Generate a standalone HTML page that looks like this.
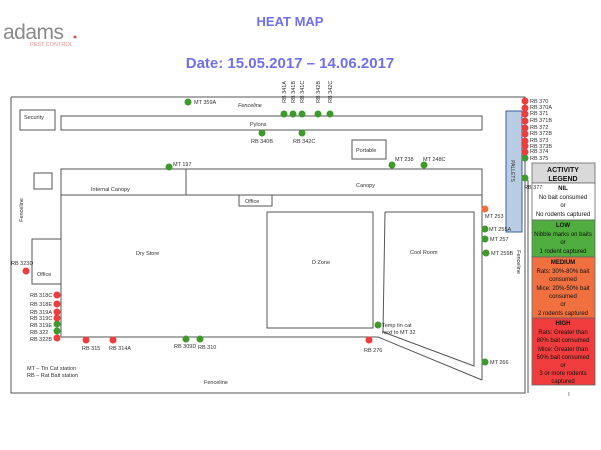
<!DOCTYPE html>
<html><head><meta charset="utf-8"><style>
body{margin:0;background:#fff}
svg{display:block}
text{font-family:"Liberation Sans",sans-serif}
</style></head><body>
<svg width="601" height="450" viewBox="0 0 601 450" xmlns="http://www.w3.org/2000/svg">
<text x="3" y="39" font-size="21" fill="#8a8a8a" letter-spacing="-0.5">adams</text>
<circle cx="75" cy="37" r="1.5" fill="#e05050"/>
<text x="30" y="46" font-size="5.5" fill="#e89090">PEST CONTROL</text>
<text x="290" y="26" font-size="13" font-weight="bold" fill="#7070f0" text-anchor="middle">HEAT MAP</text>
<text x="290" y="68" font-size="15" font-weight="bold" fill="#7070f0" text-anchor="middle">Date: 15.05.2017 – 14.06.2017</text>

<g fill="none" stroke="#555" stroke-width="1">
<polyline points="11,97 525,97 525,393 11,393 11,97"/>
<line x1="528" y1="180" x2="528" y2="393"/>
<rect x="20" y="110" width="35" height="20"/>
<rect x="61" y="116" width="421" height="14"/>
<rect x="34" y="173" width="18" height="16"/>
<rect x="352" y="140" width="34" height="19"/>
<polyline points="61,337 61,169 482,169 482,380"/>
<line x1="61" y1="195" x2="482" y2="195"/>
<line x1="186" y1="169" x2="186" y2="195"/>
<polyline points="61,337 378,337 482,380"/>
<rect x="239" y="195" width="33" height="11"/>
<rect x="32" y="239" width="29" height="45"/>
<rect x="267" y="212" width="106" height="116"/>
<polyline points="385,212 474,212 474,366 383,332 385,212"/>
</g>
<rect x="506" y="111" width="16" height="121" fill="#b8cce4" stroke="#3a5f9a" stroke-width="1"/>
<text transform="translate(511,171) rotate(90)" font-size="5" text-anchor="middle" fill="#333">PALLETS</text>

<g font-size="5.5" fill="#333">
<text x="24" y="119">Security</text>
<text x="238" y="107" font-style="italic">Fenceline</text>
<text x="250" y="126">Pylons</text>
<text x="356" y="152">Portable</text>
<text x="91" y="191">Internal Canopy</text>
<text x="356" y="187">Canopy</text>
<text x="245" y="203">Office</text>
<text x="37" y="276">Office</text>
<text x="136" y="255">Dry Store</text>
<text x="312" y="264">D Zone</text>
<text x="410" y="254">Cool Room</text>
<text x="27" y="370">MT – Tin Cat station</text>
<text x="27" y="377">RB – Rat Bait station</text>
<text x="204" y="384">Fenceline</text>
<text transform="translate(23,210) rotate(-90)" text-anchor="middle">Fenceline</text>
<text transform="translate(517,262) rotate(90)" text-anchor="middle">Fenceline</text>
</g>

<g stroke="#666" stroke-width="0.8">
<rect x="532" y="163" width="63" height="20" fill="#d9d9d9"/>
<rect x="532" y="183" width="63" height="37" fill="#fff"/>
<rect x="532" y="220" width="63" height="37" fill="#4fae3e"/>
<rect x="532" y="257" width="63" height="61" fill="#f07040"/>
<rect x="532" y="318" width="63" height="67" fill="#f03c3c"/>
</g>
<g font-size="6" fill="#111" text-anchor="middle">
<text x="563" y="172" font-size="7" font-weight="bold">ACTIVITY</text>
<text x="563" y="181" font-size="7" font-weight="bold">LEGEND</text>
<text x="563" y="190" font-weight="bold">NIL</text>
<text x="563" y="199">No bait consumed</text>
<text x="563" y="207">or</text>
<text x="563" y="216">No rodents captured</text>
<text x="563" y="227" font-weight="bold">LOW</text>
<text x="563" y="236">Nibble marks on baits</text>
<text x="563" y="244">or</text>
<text x="563" y="253">1 rodent captured</text>
<text x="563" y="264" font-weight="bold">MEDIUM</text>
<text x="563" y="273">Rats: 30%-80% bait</text>
<text x="563" y="281">consumed</text>
<text x="563" y="290">Mice: 20%-50% bait</text>
<text x="563" y="298">consumed</text>
<text x="563" y="306">or</text>
<text x="563" y="315">2 rodents captured</text>
<text x="563" y="325" font-weight="bold">HIGH</text>
<text x="563" y="334">Rats: Greater than</text>
<text x="563" y="342">80% bait consumed</text>
<text x="563" y="351">Mice: Greater than</text>
<text x="563" y="359">50% bait consumed</text>
<text x="563" y="367">or</text>
<text x="563" y="375">3 or more rodents</text>
<text x="563" y="383">captured</text>
<text x="569" y="396" font-size="5">I</text>
</g>

<g fill="#3d9a2c">
<circle cx="188" cy="102" r="3.5"/>
<circle cx="284" cy="114" r="3.5"/><circle cx="293" cy="114" r="3.5"/><circle cx="302" cy="114" r="3.5"/><circle cx="318" cy="114" r="3.5"/><circle cx="330" cy="114" r="3.5"/>
<circle cx="262" cy="133" r="3.5"/><circle cx="302" cy="133" r="3.5"/>
<circle cx="169" cy="167" r="3.5"/><circle cx="392" cy="165" r="3.5"/><circle cx="424" cy="165" r="3.5"/>
<circle cx="525" cy="158" r="3.5"/><circle cx="525" cy="178" r="3.5"/>
<circle cx="485" cy="229" r="3.5"/><circle cx="485" cy="239" r="3.5"/><circle cx="486" cy="253" r="3.5"/><circle cx="485" cy="362" r="3.5"/>
<circle cx="378" cy="325" r="3.5"/>
<circle cx="57" cy="324" r="3.5"/><circle cx="57" cy="331" r="3.5"/>
<circle cx="186" cy="339" r="3.5"/><circle cx="200" cy="339" r="3.5"/>
</g>
<g fill="#f03c3c">
<circle cx="525" cy="101" r="3.5"/><circle cx="525" cy="108" r="3.5"/><circle cx="525" cy="114" r="3.5"/><circle cx="525" cy="121" r="3.5"/><circle cx="525" cy="128" r="3.5"/><circle cx="525" cy="134" r="3.5"/><circle cx="525" cy="141" r="3.5"/><circle cx="525" cy="146" r="3.5"/><circle cx="525" cy="152" r="3.5"/>
<circle cx="369" cy="340" r="3.5"/>
<circle cx="26" cy="271" r="3.5"/>
<circle cx="57" cy="295" r="3.5"/><circle cx="57" cy="304" r="3.5"/><circle cx="57" cy="312" r="3.5"/><circle cx="57" cy="318" r="3.5"/><circle cx="57" cy="338" r="3.5"/>
<circle cx="86" cy="340" r="3.5"/><circle cx="113" cy="340" r="3.5"/>
</g>
<circle cx="485" cy="209" r="3.5" fill="#f07040"/>

<g font-size="5.5" fill="#333">
<text x="194" y="104">MT 359A</text>
<text transform="translate(286,103) rotate(-90)">RB 341A</text>
<text transform="translate(295,103) rotate(-90)">RB 341B</text>
<text transform="translate(304,103) rotate(-90)">RB 341C</text>
<text transform="translate(320,103) rotate(-90)">RB 342B</text>
<text transform="translate(332,103) rotate(-90)">RB 342C</text>
<text x="251" y="143">RB 340B</text>
<text x="293" y="143">RB 342C</text>
<text x="173" y="166">MT 197</text>
<text x="395" y="161">MT 238</text>
<text x="423" y="161">MT 248C</text>
<text x="530" y="103">RB 370</text>
<text x="530" y="109">RB 370A</text>
<text x="530" y="115">RB 371</text>
<text x="530" y="122">RB 371B</text>
<text x="530" y="129">RB 372</text>
<text x="530" y="135">RB 372B</text>
<text x="530" y="142">RB 373</text>
<text x="530" y="148">RB 373B</text>
<text x="530" y="153">RB 374</text>
<text x="530" y="160">RB 375</text>
<text x="524" y="189">RB 377</text>
<text x="485" y="218">MT 253</text>
<text x="489" y="231">MT 255A</text>
<text x="490" y="241">MT 257</text>
<text x="491" y="255">MT 259B</text>
<text x="490" y="364">MT 266</text>
<text x="382" y="327">Temp tin cat</text>
<text x="382" y="334">next to MT 32</text>
<text x="364" y="352">RB 276</text>
<text x="11" y="265">RB 323D</text>
<text x="30" y="297">RB 318C</text>
<text x="30" y="306">RB 318E</text>
<text x="30" y="314">RB 319A</text>
<text x="30" y="320">RB 319C</text>
<text x="30" y="327">RB 319E</text>
<text x="30" y="334">RB 322</text>
<text x="30" y="341">RB 322B</text>
<text x="82" y="350">RB 315</text>
<text x="109" y="350">RB 314A</text>
<text x="174" y="348">RB 309D</text>
<text x="198" y="349">RB 310</text>
</g>
</svg>
</body></html>
